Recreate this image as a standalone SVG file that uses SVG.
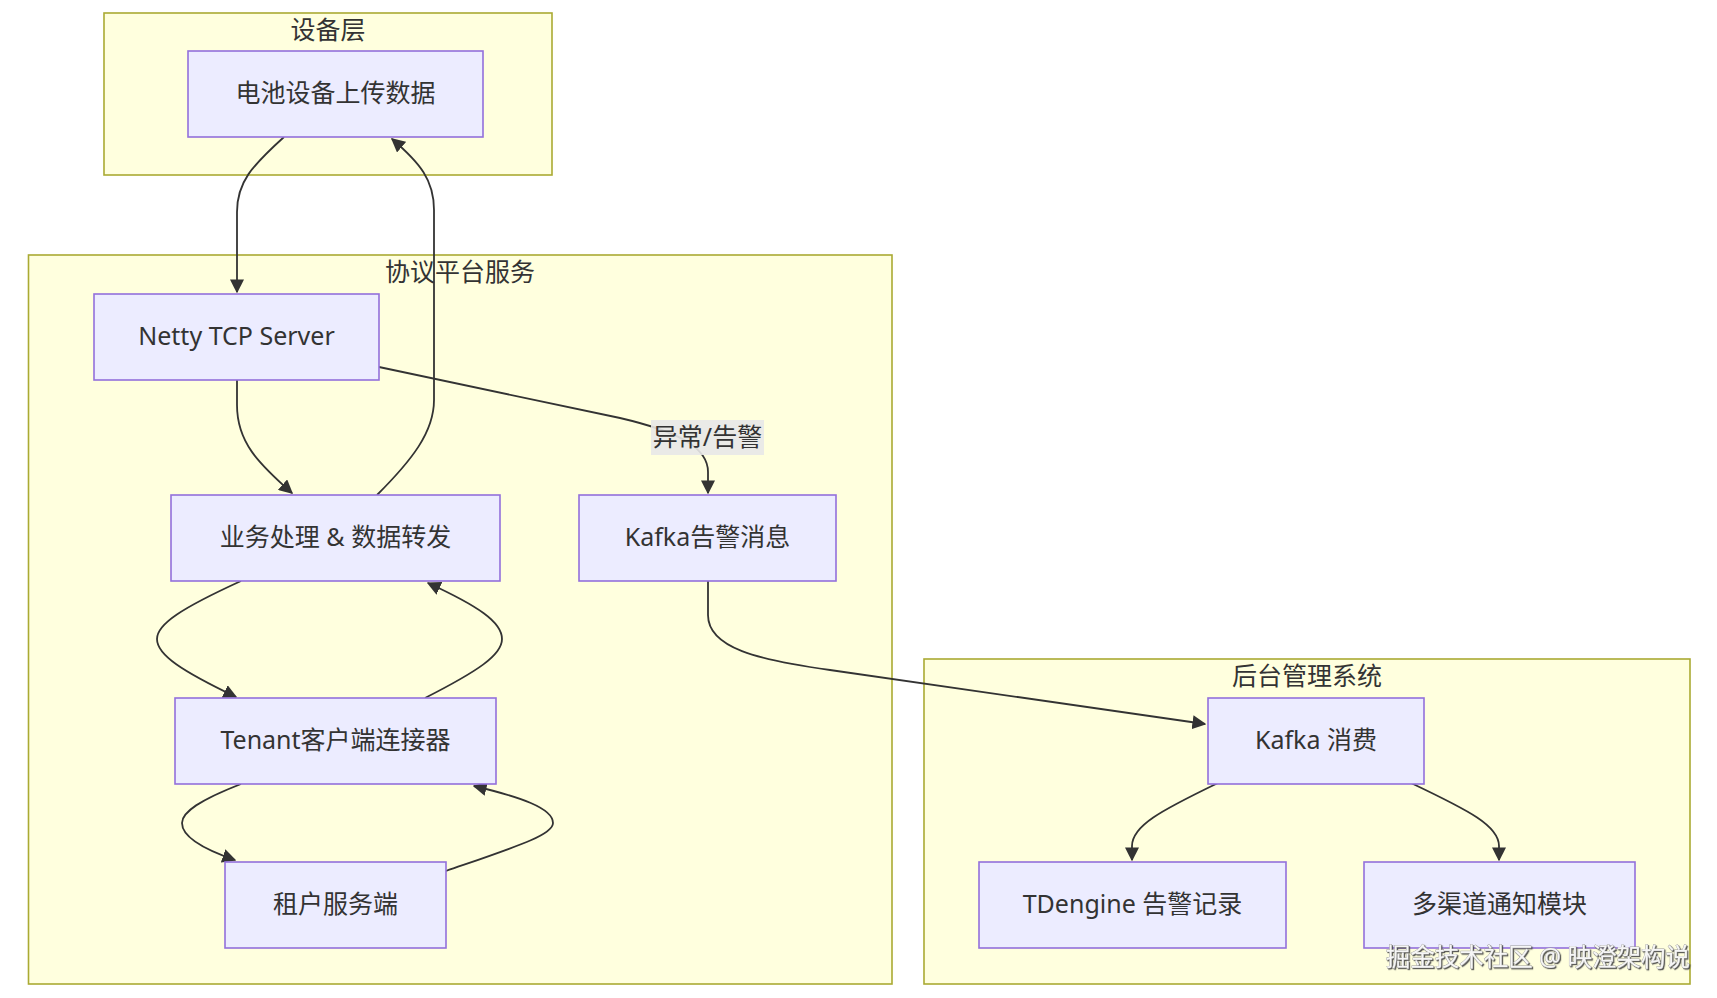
<svg xmlns="http://www.w3.org/2000/svg" width="1717" height="998" viewBox="0 0 1717 998">
<style>
.grp{fill:#ffffde;stroke:#aaaa33;stroke-width:1.6}
.node rect{fill:#ececff;stroke:#9370db;stroke-width:1.6}
text{font-family:"Noto Sans","Noto Sans CJK SC",sans-serif;font-size:25px;fill:#333333}
.lbl{text-anchor:middle;dominant-baseline:central}
.edge{fill:none;stroke:#333333;stroke-width:1.8}
.wm{font-size:24.5px;fill:#f6f6f6;stroke:#9a9a9a;stroke-width:0.8;paint-order:stroke;text-anchor:end;dominant-baseline:central}
</style>
<defs>
<marker id="arr" viewBox="0 0 10 10" refX="9" refY="5" markerUnits="userSpaceOnUse" markerWidth="14" markerHeight="14" orient="auto">
<path d="M0,0 L10,5 L0,10 z" fill="#333333"/>
</marker>
<filter id="shadow" x="-5%" y="-30%" width="110%" height="160%">
<feDropShadow dx="1.2" dy="1.2" stdDeviation="0.6" flood-color="#444444" flood-opacity="0.9"/>
</filter>
</defs>
<rect width="1717" height="998" fill="#ffffff"/>
<g id="clusters">
<g id="cluster-device">
<rect class="grp" x="104" y="13" width="448" height="162"/>
<text class="lbl" x="328" y="29">设备层</text>
</g>
<g id="cluster-protocol">
<rect class="grp" x="28.5" y="255" width="863.5" height="729"/>
<text class="lbl" x="460" y="271">协议平台服务</text>
</g>
<g id="cluster-backend">
<rect class="grp" x="924" y="659" width="766" height="325"/>
<text class="lbl" x="1307" y="675">后台管理系统</text>
</g>
</g>
<g id="edges">
<path class="edge" d="M284,137 C252,166 237,182 237,212 L237,292" marker-end="url(#arr)"/>
<path class="edge" d="M377,495 C412,460 434,432 434,400 L434,210 C434,180 420,163 392,139" marker-end="url(#arr)"/>
<path class="edge" d="M237,380 L237,405 C237,442 258,463 292,493" marker-end="url(#arr)"/>
<path class="edge" d="M379,367 L620,418 C680,432 708,448 708,472 L708,493" marker-end="url(#arr)"/>
<path class="edge" d="M708,581 L708,615 C708,648 758,660 830,670 L1205,724" marker-end="url(#arr)"/>
<path class="edge" d="M241,581 C182,608 157,624 157,639 C157,655 182,671 236,697" marker-end="url(#arr)"/>
<path class="edge" d="M425,698 C478,671 502,655 502,639 C502,622 478,606 428,583" marker-end="url(#arr)"/>
<path class="edge" d="M241,784 C200,800 182,812 182,823 C182,835 200,848 235,860" marker-end="url(#arr)"/>
<path class="edge" d="M446,871 C518,846 553,835 553,823 C553,808 520,797 474,786" marker-end="url(#arr)"/>
<path class="edge" d="M1218,783 C1160,811 1132,826 1132,846 L1132,860" marker-end="url(#arr)"/>
<path class="edge" d="M1411,783 C1470,811 1499,826 1499,846 L1499,860" marker-end="url(#arr)"/>
<g id="edge-label">
<rect x="651" y="420" width="113" height="35" fill="#e8e8e8" opacity="0.9"/>
<text class="lbl" x="707.5" y="436">异常/告警</text>
</g>
</g>
<g id="n-battery" class="node"><rect x="188" y="51" width="295" height="86"/><text class="lbl" x="335.5" y="92">电池设备上传数据</text></g>
<g id="n-netty" class="node"><rect x="94" y="294" width="285" height="86"/><text class="lbl" x="236.5" y="335">Netty TCP Server</text></g>
<g id="n-biz" class="node"><rect x="171" y="495" width="329" height="86"/><text class="lbl" x="335.5" y="536" xml:space="preserve">业务处理 &amp; 数据转发</text></g>
<g id="n-kafka-alarm" class="node"><rect x="579" y="495" width="257" height="86"/><text class="lbl" x="707.5" y="536">Kafka告警消息</text></g>
<g id="n-tenant" class="node"><rect x="175" y="698" width="321" height="86"/><text class="lbl" x="335.5" y="739">Tenant客户端连接器</text></g>
<g id="n-tenant-server" class="node"><rect x="225" y="862" width="221" height="86"/><text class="lbl" x="335.5" y="903">租户服务端</text></g>
<g id="n-kafka-consume" class="node"><rect x="1208" y="698" width="216" height="86"/><text class="lbl" x="1316" y="739">Kafka 消费</text></g>
<g id="n-tdengine" class="node"><rect x="979" y="862" width="307" height="86"/><text class="lbl" x="1132.5" y="903">TDengine 告警记录</text></g>
<g id="n-notify" class="node"><rect x="1364" y="862" width="271" height="86"/><text class="lbl" x="1499.5" y="903">多渠道通知模块</text></g>
<text class="wm" x="1690" y="956" filter="url(#shadow)">掘金技术社区 @ 映澄架构说</text>
</svg>
